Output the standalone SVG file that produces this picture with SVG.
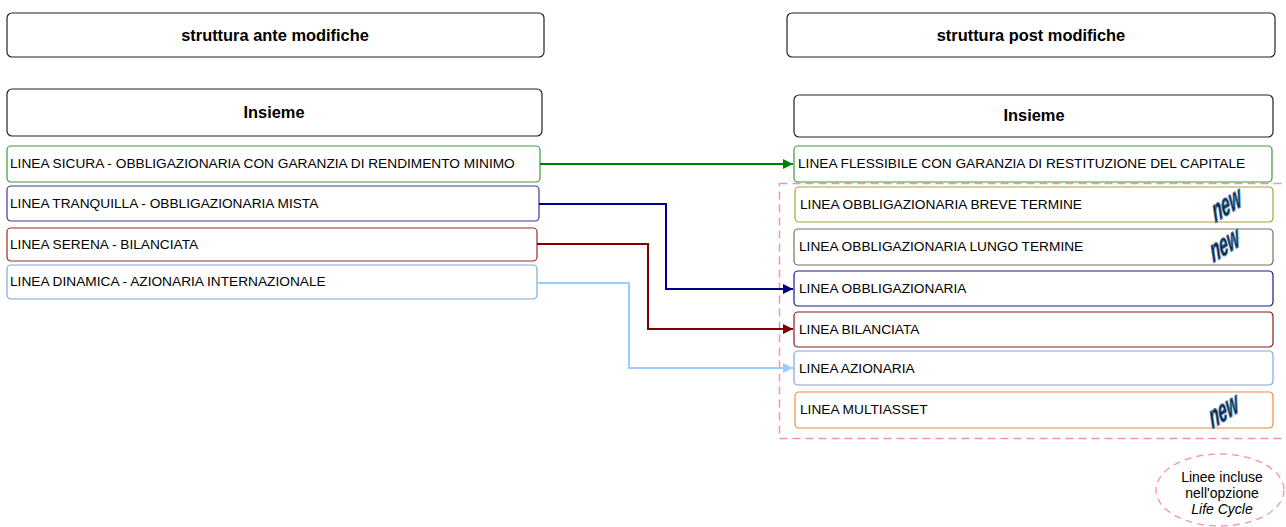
<svg xmlns="http://www.w3.org/2000/svg" width="1286" height="527" viewBox="0 0 1286 527">
<style>
text{font-family:"Liberation Sans",Arial,sans-serif;fill:#000}
.hd{font-size:16.4px;font-weight:bold;text-anchor:middle}
.it{font-size:13.7px}
.bx{fill:#fff;stroke-width:1.2}
.blk{stroke:#222}
.new{font-size:21px;font-weight:bold;font-style:italic;fill:#0a1f3d;stroke:#3f6f9f;stroke-width:0.9;text-anchor:middle}
.cn{fill:none;stroke-width:2}
.lc{font-size:14px;text-anchor:middle}
</style>
<defs>
<marker id="ag" viewBox="0 0 10 10" refX="10" refY="5" markerWidth="5" markerHeight="5" orient="auto" markerUnits="strokeWidth"><path d="M0,0L10,5L0,10z" fill="#008000"/></marker>
<marker id="an" viewBox="0 0 10 10" refX="10" refY="5" markerWidth="5" markerHeight="5" orient="auto" markerUnits="strokeWidth"><path d="M0,0L10,5L0,10z" fill="#000080"/></marker>
<marker id="ar" viewBox="0 0 10 10" refX="10" refY="5" markerWidth="5" markerHeight="5" orient="auto" markerUnits="strokeWidth"><path d="M0,0L10,5L0,10z" fill="#800000"/></marker>
<marker id="ab" viewBox="0 0 10 10" refX="10" refY="5" markerWidth="5" markerHeight="5" orient="auto" markerUnits="strokeWidth"><path d="M0,0L10,5L0,10z" fill="#99ccff"/></marker>
</defs>
<rect width="1286" height="527" fill="#fff"/>
<g id="group-lifecycle">
<rect x="779.5" y="183.5" width="520" height="255" fill="none" stroke="#f58fc0" stroke-width="1.5" stroke-dasharray="8,5"/>
</g>
<g id="hdr-ante"><rect class="bx blk" x="7" y="13" width="537" height="44" rx="5"/><text class="hd" x="275" y="41">struttura ante modifiche</text></g>
<g id="hdr-post"><rect class="bx blk" x="787" y="13" width="488" height="44" rx="5"/><text class="hd" x="1031" y="41">struttura post modifiche</text></g>
<g id="ins-ante"><rect class="bx blk" x="7" y="89" width="535" height="47" rx="5"/><text class="hd" x="274" y="118">Insieme</text></g>
<g id="ins-post"><rect class="bx blk" x="794" y="95" width="479" height="42" rx="5"/><text class="hd" x="1034" y="121">Insieme</text></g>
<g id="l-sicura"><rect class="bx" stroke="#3c9a3c" x="7" y="146" width="533" height="36" rx="4"/><text class="it" x="10" y="168">LINEA SICURA - OBBLIGAZIONARIA CON GARANZIA DI RENDIMENTO MINIMO</text></g>
<g id="l-tranquilla"><rect class="bx" stroke="#3a3a9a" x="7" y="186" width="532" height="35" rx="4"/><text class="it" x="10" y="208">LINEA TRANQUILLA - OBBLIGAZIONARIA MISTA</text></g>
<g id="l-serena"><rect class="bx" stroke="#a02828" x="7" y="228" width="530" height="33" rx="4"/><text class="it" x="10" y="249">LINEA SERENA - BILANCIATA</text></g>
<g id="l-dinamica"><rect class="bx" stroke="#7fa7d8" x="7" y="265" width="530" height="34" rx="4"/><text class="it" x="10" y="286">LINEA DINAMICA - AZIONARIA INTERNAZIONALE</text></g>
<g id="r-flessibile"><rect class="bx" stroke="#3c9a3c" x="794" y="146" width="478" height="36" rx="4"/><text class="it" x="798" y="168">LINEA FLESSIBILE CON GARANZIA DI RESTITUZIONE DEL CAPITALE</text></g>
<g id="r-breve"><rect class="bx" stroke="#a8a040" x="795" y="187" width="478" height="35" rx="4"/><text class="it" x="800" y="209">LINEA OBBLIGAZIONARIA BREVE TERMINE</text><text class="new" transform="translate(1229,214) rotate(-32) skewX(-18) scale(0.8,1.4)">new</text></g>
<g id="r-lungo"><rect class="bx" stroke="#7a7262" x="794" y="229" width="479" height="36" rx="4"/><text class="it" x="799" y="251">LINEA OBBLIGAZIONARIA LUNGO TERMINE</text><text class="new" transform="translate(1227,254) rotate(-32) skewX(-18) scale(0.8,1.4)">new</text></g>
<g id="r-obbl"><rect class="bx" stroke="#1a1a8a" x="794" y="271" width="479" height="35" rx="4"/><text class="it" x="799" y="293">LINEA OBBLIGAZIONARIA</text></g>
<g id="r-bil"><rect class="bx" stroke="#8c1a1a" x="794" y="312" width="479" height="35" rx="4"/><text class="it" x="799" y="334">LINEA BILANCIATA</text></g>
<g id="r-az"><rect class="bx" stroke="#7fa7d8" x="794" y="351" width="479" height="34" rx="4"/><text class="it" x="799" y="373">LINEA AZIONARIA</text></g>
<g id="r-multi"><rect class="bx" stroke="#f38a3a" x="795" y="392" width="478" height="36" rx="4"/><text class="it" x="800" y="414">LINEA MULTIASSET</text><text class="new" transform="translate(1226,420) rotate(-32) skewX(-18) scale(0.8,1.4)">new</text></g>
<g id="life-cycle">
<ellipse cx="1220" cy="490" rx="64" ry="36" fill="#fff" stroke="#f58fc0" stroke-width="1.3" stroke-dasharray="7,5"/>
<text class="lc" x="1222" y="482">Linee incluse</text>
<text class="lc" x="1222" y="498">nell'opzione</text>
<text class="lc" x="1222" y="514" font-style="italic">Life Cycle</text>
</g>
<g id="connectors">
<path class="cn" stroke="#008000" d="M540,164H793" marker-end="url(#ag)"/>
<path class="cn" stroke="#000080" d="M539,204H666V289H793" marker-end="url(#an)"/>
<path class="cn" stroke="#800000" d="M537,244H648V329H793" marker-end="url(#ar)"/>
<path class="cn" stroke="#99ccff" d="M537,283H629V368H793" marker-end="url(#ab)"/>
</g>
</svg>
